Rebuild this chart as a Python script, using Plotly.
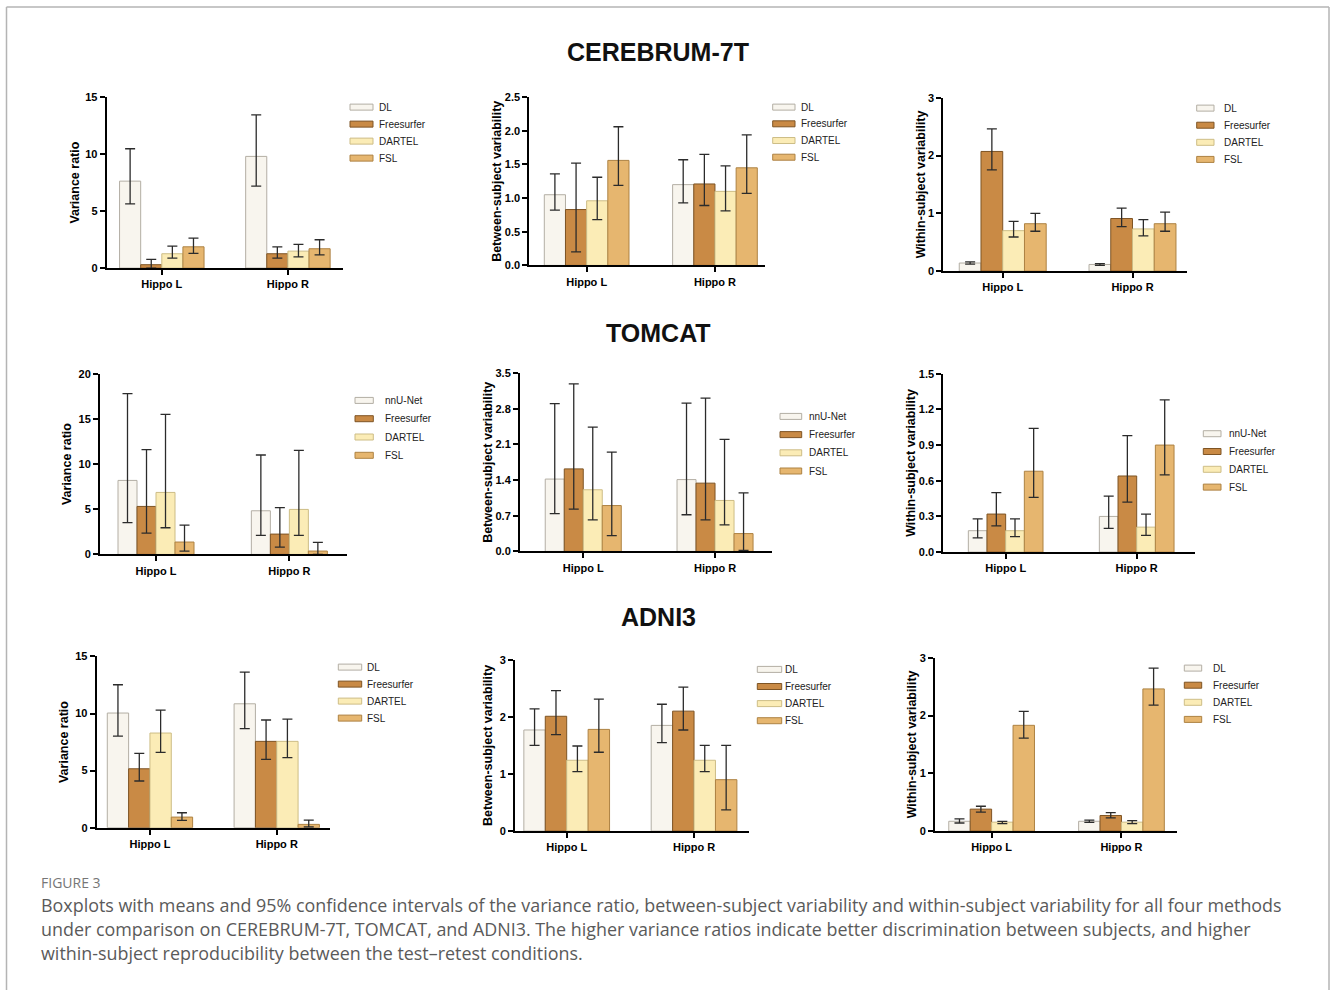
import plotly.graph_objects as go

W, H = 1330, 990

CATEGORIES = ["Hippo L", "Hippo R"]
METHODS_DL = ["DL", "Freesurfer", "DARTEL", "FSL"]
METHODS_NN = ["nnU-Net", "Freesurfer", "DARTEL", "FSL"]
DATASET_TITLES = ["CEREBRUM-7T", "TOMCAT", "ADNI3"]
Y_TITLES = ["Variance ratio", "Between-subject variability", "Within-subject variability"]

# rows = methods (DL/nnU-Net, Freesurfer, DARTEL, FSL); cols = Hippo L, Hippo R
# CEREBRUM-7T
CER_VR_MEAN = [[7.63, 9.80], [0.30, 1.26], [1.26, 1.49], [1.87, 1.70]]
CER_VR_HI = [[10.47, 13.45], [0.76, 1.87], [1.93, 2.08], [2.63, 2.49]]
CER_VR_LO = [[5.64, 7.19], [0.00, 0.88], [0.88, 0.99], [1.29, 1.17]]

CER_BS_MEAN = [[1.05, 1.20], [0.83, 1.21], [0.96, 1.10], [1.56, 1.45]]
CER_BS_HI = [[1.36, 1.57], [1.52, 1.65], [1.31, 1.48], [2.06, 1.94]]
CER_BS_LO = [[0.82, 0.93], [0.20, 0.89], [0.68, 0.81], [1.19, 1.07]]

CER_WS_MEAN = [[0.14, 0.115], [2.07, 0.91], [0.70, 0.73], [0.82, 0.82]]
CER_WS_HI = [[0.16, 0.13], [2.46, 1.09], [0.86, 0.89], [1.00, 1.02]]
CER_WS_LO = [[0.12, 0.10], [1.75, 0.77], [0.59, 0.61], [0.69, 0.69]]

# TOMCAT
TOM_VR_MEAN = [[8.19, 4.83], [5.31, 2.25], [6.86, 4.98], [1.37, 0.37]]
TOM_VR_HI = [[17.79, 11.00], [11.59, 5.17], [15.50, 11.51], [3.25, 1.33]]
TOM_VR_LO = [[3.51, 2.10], [2.36, 0.81], [2.95, 2.10], [0.37, 0.00]]

TOM_BS_MEAN = [[1.42, 1.41], [1.62, 1.34], [1.21, 1.00], [0.90, 0.35]]
TOM_BS_HI = [[2.90, 2.91], [3.29, 3.01], [2.44, 2.20], [1.95, 1.15]]
TOM_BS_LO = [[0.74, 0.72], [0.83, 0.62], [0.62, 0.52], [0.31, 0.02]]

TOM_WS_MEAN = [[0.18, 0.30], [0.32, 0.64], [0.18, 0.21], [0.68, 0.90]]
TOM_WS_HI = [[0.28, 0.47], [0.50, 0.98], [0.28, 0.32], [1.04, 1.28]]
TOM_WS_LO = [[0.12, 0.20], [0.22, 0.42], [0.13, 0.14], [0.46, 0.65]]

# ADNI3
ADN_VR_MEAN = [[10.04, 10.85], [5.16, 7.56], [8.29, 7.56], [0.93, 0.29]]
ADN_VR_HI = [[12.52, 13.63], [6.51, 9.43], [10.30, 9.51], [1.31, 0.67]]
ADN_VR_LO = [[8.02, 8.67], [4.09, 5.98], [6.60, 6.13], [0.64, 0.06]]

ADN_BS_MEAN = [[1.77, 1.85], [2.01, 2.10], [1.24, 1.24], [1.78, 0.90]]
ADN_BS_HI = [[2.14, 2.22], [2.46, 2.52], [1.49, 1.50], [2.31, 1.50]]
ADN_BS_LO = [[1.50, 1.55], [1.69, 1.77], [1.04, 1.04], [1.38, 0.37]]

ADN_WS_MEAN = [[0.17, 0.17], [0.38, 0.27], [0.155, 0.155], [1.83, 2.46]]
ADN_WS_HI = [[0.21, 0.19], [0.43, 0.32], [0.17, 0.18], [2.07, 2.82]]
ADN_WS_LO = [[0.14, 0.15], [0.33, 0.23], [0.13, 0.13], [1.61, 2.18]]

CAPTION_HEAD = "FIGURE 3"
CAPTION_LINES = [
    "Boxplots with means and 95% confidence intervals of the variance ratio, between-subject variability and within-subject variability for all four methods",
    "under comparison on CEREBRUM-7T, TOMCAT, and ADNI3. The higher variance ratios indicate better discrimination between subjects, and higher",
    "within-subject reproducibility between the test\u2013retest conditions.",
]

FILL = ["#f8f5ee", "#c98a45", "#fbecb6", "#e6b66f"]
OUTLINE = ["#b3aea4", "#7e5424", "#cdbd86", "#ad8243"]
FONT = "Liberation Sans, Arial, sans-serif"
CAP_FONT = "Open Sans, Noto Sans, sans-serif"

# panel layout in pixels: box (x0, x1, ytop, ybottom), x range, y range, tick step, format,
# group width, title standoff, legend (rect x0, rect x1, text x, first row y, row step)
PANELS = [
    dict(data=(CER_VR_MEAN, CER_VR_HI, CER_VR_LO), methods=METHODS_DL, ytitle=0,
         box=(106.7, 343, 96.7, 267.7), xr=(-0.437, 1.437), yr=(0, 15), dtick=5, fmt="d",
         gw=0.67, so=3, leg=(350, 373, 377, 106.7, 17.0)),
    dict(data=(CER_BS_MEAN, CER_BS_HI, CER_BS_LO), methods=METHODS_DL, ytitle=1,
         box=(529.3, 765, 96.7, 265), xr=(-0.447, 1.39), yr=(0, 2.5), dtick=0.5, fmt=".1f",
         gw=0.66, so=0, leg=(772.7, 795, 799, 106.7, 16.7)),
    dict(data=(CER_WS_MEAN, CER_WS_HI, CER_WS_LO), methods=METHODS_DL, ytitle=2,
         box=(943.3, 1187, 97.3, 270.7), xr=(-0.458, 1.42), yr=(0, 3), dtick=1, fmt="d",
         gw=0.67, so=0, leg=(1196.7, 1214, 1221.7, 107.7, 17.1)),
    dict(data=(TOM_VR_MEAN, TOM_VR_HI, TOM_VR_LO), methods=METHODS_NN, ytitle=0,
         box=(100, 346.7, 373.3, 554), xr=(-0.42, 1.43), yr=(0, 20), dtick=5, fmt="d",
         gw=0.57, so=4, leg=(355, 373.3, 382.7, 400, 18.3)),
    dict(data=(TOM_BS_MEAN, TOM_BS_HI, TOM_BS_LO), methods=METHODS_NN, ytitle=1,
         box=(520, 771.7, 372.7, 551), xr=(-0.48, 1.43), yr=(0, 3.5), dtick=0.7, fmt=".1f",
         gw=0.577, so=0, leg=(780, 801.7, 806.7, 416, 18.2)),
    dict(data=(TOM_WS_MEAN, TOM_WS_HI, TOM_WS_LO), methods=METHODS_NN, ytitle=2,
         box=(943.3, 1195, 373.3, 551.7), xr=(-0.476, 1.445), yr=(0, 1.5), dtick=0.3, fmt=".1f",
         gw=0.57, so=0, leg=(1203.3, 1221, 1226.7, 433.3, 17.8)),
    dict(data=(ADN_VR_MEAN, ADN_VR_HI, ADN_VR_LO), methods=METHODS_DL, ytitle=0,
         box=(96.7, 330, 656, 827.3), xr=(-0.42, 1.42), yr=(0, 15), dtick=5, fmt="d",
         gw=0.673, so=4, leg=(338.3, 361.7, 365, 666.7, 17.0)),
    dict(data=(ADN_BS_MEAN, ADN_BS_HI, ADN_BS_LO), methods=METHODS_DL, ytitle=1,
         box=(515, 749.3, 659.3, 830.7), xr=(-0.406, 1.434), yr=(0, 3), dtick=1, fmt="d",
         gw=0.673, so=4, leg=(757.3, 781.7, 783.3, 669, 17.1)),
    dict(data=(ADN_WS_MEAN, ADN_WS_HI, ADN_WS_LO), methods=METHODS_DL, ytitle=2,
         box=(935, 1177.3, 657.3, 830.7), xr=(-0.436, 1.43), yr=(0, 3), dtick=1, fmt="d",
         gw=0.66, so=0, leg=(1184.3, 1201.7, 1210.7, 667.7, 17.1)),
]

# vertical calibration of the photographed page (observed y = Y_OFF + Y_SCALE * set y)
Y_OFF, Y_SCALE = 5.58, 0.9879


def px_x(x):
    return x / W


def px_y(y):
    return 1 - ((y - Y_OFF) / Y_SCALE) / H


fig = go.Figure()
shapes = []
annotations = []

for i, p in enumerate(PANELS):
    n = i + 1
    xa = "x" if n == 1 else f"x{n}"
    ya = "y" if n == 1 else f"y{n}"
    means, his, los = p["data"]
    bw = p["gw"] / 4
    for m, name in enumerate(p["methods"]):
        mean = means[m]
        up = [h - v for h, v in zip(his[m], mean)]
        dn = [v - l for v, l in zip(mean, los[m])]
        fig.add_trace(go.Bar(
            x=CATEGORIES, y=mean, name=name, xaxis=xa, yaxis=ya,
            width=bw, offset=-p["gw"] / 2 + m * bw,
            marker=dict(color=FILL[m], line=dict(color=OUTLINE[m], width=1)),
            error_y=dict(type="data", symmetric=False, array=up, arrayminus=dn,
                         color="#2b2b2b", thickness=1.3, width=5),
            showlegend=False,
        ))
    x0, x1, yt, yb = p["box"]
    key_x = "xaxis" if n == 1 else f"xaxis{n}"
    key_y = "yaxis" if n == 1 else f"yaxis{n}"
    fig.layout[key_x] = dict(
        domain=[px_x(x0), px_x(x1)], anchor=ya, range=list(p["xr"]), type="category",
        showline=True, linecolor="black", linewidth=2, ticks="outside", ticklen=5,
        tickwidth=2, tickcolor="black", showgrid=False, zeroline=False,
        tickfont=dict(family=FONT, size=11, color="black", weight="bold"),
    )
    fig.layout[key_y] = dict(
        domain=[px_y(yb), px_y(yt)], anchor=xa, range=list(p["yr"]), dtick=p["dtick"], tick0=0,
        tickformat=p["fmt"], showline=True, linecolor="black", linewidth=2, ticks="outside",
        ticklen=5, tickwidth=2, tickcolor="black", showgrid=False, zeroline=False,
        tickfont=dict(family=FONT, size=11, color="black", weight="bold"),
        title=dict(text=Y_TITLES[p["ytitle"]], standoff=p["so"],
                   font=dict(family=FONT, size=12.5, color="black", weight="bold")),
    )
    lx0, lx1, tx, ry, step = p["leg"]
    for m, name in enumerate(p["methods"]):
        cy = ry + m * step
        shapes.append(dict(type="rect", xref="paper", yref="paper",
                           x0=px_x(lx0), x1=px_x(lx1), y0=px_y(cy + 3), y1=px_y(cy - 3),
                           fillcolor=FILL[m], line=dict(color=OUTLINE[m], width=1)))
        annotations.append(dict(text=name, xref="paper", yref="paper", x=px_x(tx), y=px_y(cy),
                                xanchor="left", yanchor="middle", showarrow=False,
                                font=dict(family=FONT, size=10, color="#222")))

for title, cy in zip(DATASET_TITLES, [52, 333, 617]):
    annotations.append(dict(text=f"<b>{title}</b>", xref="paper", yref="paper", x=px_x(658),
                            y=px_y(cy), xanchor="center", yanchor="middle", showarrow=False,
                            font=dict(family=FONT, size=25, color="#111")))

annotations.append(dict(text=CAPTION_HEAD, xref="paper", yref="paper", x=px_x(39), y=px_y(882),
                        xanchor="left", yanchor="middle", showarrow=False,
                        font=dict(family=CAP_FONT, size=14, color="#767676")))
for line, cy in zip(CAPTION_LINES, [905, 929, 953]):
    annotations.append(dict(text=line, xref="paper", yref="paper", x=px_x(38.5), y=px_y(cy),
                            xanchor="left", yanchor="middle", showarrow=False,
                            font=dict(family=CAP_FONT, size=17.9, color="#5a5a5a")))

# outer frame (left, top, right edges)
for (ax0, ay0, ax1, ay1) in [(6.5, 6.5, 6.5, 1000), (6.5, 6.5, 1329, 6.5), (1329, 6.5, 1329, 1000)]:
    shapes.append(dict(type="line", xref="paper", yref="paper", x0=px_x(ax0), y0=px_y(ay0),
                       x1=px_x(ax1), y1=px_y(ay1), line=dict(color="#b4b4b4", width=1.5)))

fig.update_layout(
    width=W, height=H, margin=dict(l=0, r=0, t=0, b=0),
    paper_bgcolor="white", plot_bgcolor="white", barmode="overlay",
    shapes=shapes, annotations=annotations, showlegend=False,
    font=dict(family=FONT),
)

PAGE_FIX = (
    "document.documentElement.style.margin='0';document.documentElement.style.padding='0';"
    "document.body.style.margin='0';document.body.style.padding='0';"
    "document.documentElement.style.overflow='hidden';document.body.style.overflow='hidden';"
)
fig.write_html("out.html", config={"displayModeBar": False}, post_script=PAGE_FIX)
